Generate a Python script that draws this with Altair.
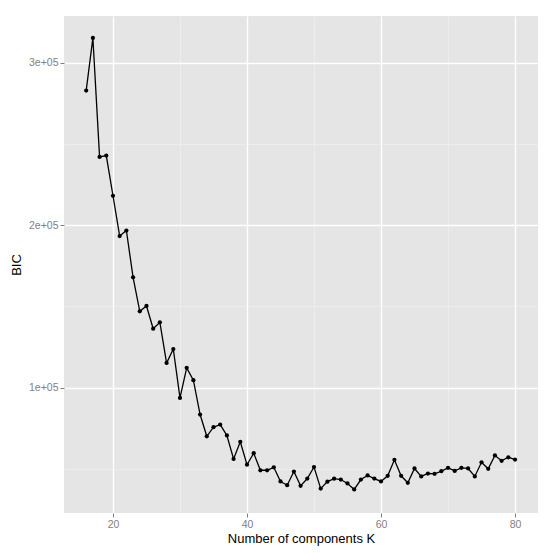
import altair as alt
import pandas as pd

k_values = list(range(16, 81))
bic_values = [
    282800, 315200, 242000, 242800, 218100, 193300, 196700, 167900, 147000, 150300,
    136300, 140200, 115200, 123800, 93700, 112200, 104600, 83500, 70100, 75700,
    77300, 70600, 56200, 66700, 52600, 59700, 49200, 49200, 51000, 42300,
    40000, 48400, 39600, 44100, 51200, 37900, 42200, 44000, 43500, 41100,
    37400, 43500, 46000, 44100, 42300, 45800, 55600, 45800, 41500, 50300,
    45400, 47200, 47000, 48600, 50700, 48800, 50700, 50300, 45400, 54100,
    50100, 58300, 55000, 57200, 55800,
]
x_grid_values = [20, 30, 40, 50, 60, 70, 80]
y_grid_values = [50000, 100000, 150000, 200000, 250000, 300000]
x_domain = [12.69, 83.43]
y_domain = [22900, 328700]

df = pd.DataFrame({"K": k_values, "BIC": bic_values})

FONT = "Liberation Sans"

x_axis = alt.Axis(
    values=x_grid_values,
    labelExpr="datum.value % 20 === 0 ? datum.label : ''",
    gridColor={"condition": {"test": "datum.value % 20 === 0", "value": "#FFFFFF"}, "value": "#F2F2F2"},
    gridWidth={"condition": {"test": "datum.value % 20 === 0", "value": 1.4}, "value": 0.6},
    tickOpacity={"condition": {"test": "datum.value % 20 === 0", "value": 1}, "value": 0},
    tickColor="#7F7F7F",
    tickSize=4,
    tickWidth=1,
    domain=False,
    labelColor="#7F7F7F",
    labelFont=FONT,
    labelFontSize=10.5,
    labelPadding=2,
    title="Number of components K",
    titleFont=FONT,
    titleFontSize=13,
    titleFontWeight="normal",
    titleColor="#000000",
    titlePadding=3,
)

y_axis = alt.Axis(
    values=y_grid_values,
    labelExpr="datum.value % 100000 === 0 ? format(datum.value / 100000, 'd') + 'e+05' : ''",
    gridColor={"condition": {"test": "datum.value % 100000 === 0", "value": "#FFFFFF"}, "value": "#F2F2F2"},
    gridWidth={"condition": {"test": "datum.value % 100000 === 0", "value": 1.4}, "value": 0.6},
    tickOpacity={"condition": {"test": "datum.value % 100000 === 0", "value": 1}, "value": 0},
    tickColor="#7F7F7F",
    tickSize=4,
    tickWidth=1,
    domain=False,
    labelColor="#7F7F7F",
    labelFont=FONT,
    labelFontSize=10.5,
    labelPadding=2,
    title="BIC",
    titleFont=FONT,
    titleFontSize=13,
    titleFontWeight="normal",
    titleColor="#000000",
    titlePadding=5,
)

x_enc = alt.X("K:Q", scale=alt.Scale(domain=x_domain, nice=False, zero=False), axis=x_axis)
y_enc = alt.Y("BIC:Q", scale=alt.Scale(domain=y_domain, nice=False, zero=False), axis=y_axis)

base = alt.Chart(df).encode(x=x_enc, y=y_enc)
line = base.mark_line(color="#000000", strokeWidth=1.3)
points = base.mark_point(filled=True, color="#000000", size=18, opacity=1)

chart = (
    alt.layer(line, points)
    .properties(
        width=474,
        height=497,
        autosize=alt.AutoSizeParams(type="none"),
        padding={"left": 56, "top": 8, "right": 8, "bottom": 40},
        background="#FFFFFF",
    )
    .configure_view(fill="#E5E5E5", stroke=None)
)

chart.save("out.html", embed_options={"renderer": "svg", "actions": False})
